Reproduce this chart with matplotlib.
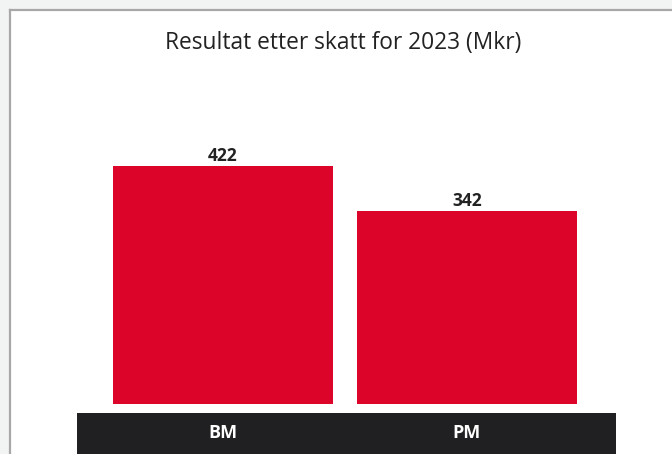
import matplotlib
matplotlib.use("Agg")
import matplotlib.pyplot as plt
from matplotlib.patches import Rectangle

categories = ["BM", "PM"]
values = [422, 342]
title = "Resultat etter skatt for 2023 (Mkr)"

W, H, DPI = 672, 454, 100
RED = "#DC0429"
BAND = "#202022"
TEXT = "#222222"

plt.rcParams["font.family"] = ["Open Sans", "DejaVu Sans"]

fig = plt.figure(figsize=(W / DPI, H / DPI), dpi=DPI, facecolor="#F2F3F3")

# white panel with a grey frame on top and left
fig.patches.append(Rectangle((10 / W, 0), 1, (H - 10) / H, transform=fig.transFigure,
                             facecolor="white", edgecolor="none", zorder=-5))
fig.add_artist(plt.Line2D([10 / W, 1], [(H - 10) / H] * 2, transform=fig.transFigure,
                          color="#A8A8A8", lw=1.6))
fig.add_artist(plt.Line2D([10 / W] * 2, [0, (H - 10) / H], transform=fig.transFigure,
                          color="#A8A8A8", lw=1.6))


def px_axes(x0, x1, ytop, ybot):
    return fig.add_axes([x0 / W, 1 - ybot / H, (x1 - x0) / W, (ybot - ytop) / H])


x = list(range(len(categories)))
xlim = (-0.598, 1.611)

ax = px_axes(77, 616, 60, 404)
ax.set_zorder(2)
ax.set_xlim(*xlim)
ax.set_ylim(0, 344 / 0.564)
bars = ax.bar(x, values, width=0.9016, color=RED, zorder=2)
for xi, v in zip(x, values):
    ax.annotate(f"{v}", (xi, v), xytext=(0, 0.8), textcoords="offset points",
                ha="center", va="bottom", fontsize=12.5, fontweight="bold", color=TEXT)
ax.axis("off")

# category band
band = px_axes(77, 616, 413, 460)
band.set_zorder(2)
band.set_facecolor(BAND)
band.set_xlim(*xlim)
band.set_ylim(0, 1)
band.set_xticks([])
band.set_yticks([])
for s in band.spines.values():
    s.set_visible(False)
for xi, c in zip(x, categories):
    band.text(xi, 0.57, c, ha="center", va="center", fontsize=13, fontweight="bold",
              color="white")

fig.text(343 / W, 1 - 43 / H, title, ha="center", va="center", fontsize=16.4, color=TEXT)

fig.savefig("out.png", dpi=DPI, facecolor=fig.get_facecolor())
